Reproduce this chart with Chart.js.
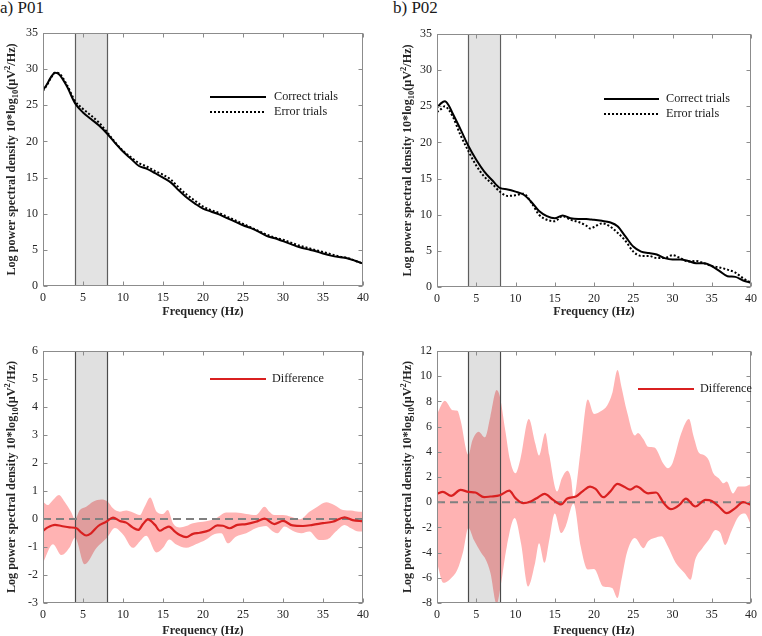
<!DOCTYPE html>
<html><head><meta charset="utf-8">
<script src="https://cdn.jsdelivr.net/npm/chart.js@4.4.0/dist/chart.umd.min.js"></script>
<style>
html,body{margin:0;padding:0;background:#fff;}
body{width:762px;height:636px;position:relative;overflow:hidden;font-family:"Liberation Serif","Times New Roman",serif;}
.c{position:absolute;}
.lab{position:absolute;font-size:17px;line-height:17px;color:#1a1a1a;white-space:nowrap;}
</style></head><body>
<div class="lab" style="left:0px;top:-1px">a) P01</div>
<div class="lab" style="left:393px;top:-1px">b) P02</div>
<canvas id="c1" class="c" width="381" height="318" style="left:0;top:0"></canvas>
<canvas id="c2" class="c" width="381" height="318" style="left:381px;top:0"></canvas>
<canvas id="c3" class="c" width="381" height="318" style="left:0;top:318px"></canvas>
<canvas id="c4" class="c" width="381" height="318" style="left:381px;top:318px"></canvas>
<script>
// ---------- tick labels ----------
const xTicks = [0,5,10,15,20,25,30,35,40];
const yTicksPSD = [0,5,10,15,20,25,30,35];
const yTicksDiffP01 = [-3,-2,-1,0,1,2,3,4,5,6];
const yTicksDiffP02 = [-8,-6,-4,-2,0,2,4,6,8,10,12];
const thetaBand = [4, 8];
const seriesLabels = ['Correct trials', 'Error trials', 'Difference'];

// ---------- P01 spectra ----------
const p01Freq = [0,0.5,1,1.5,2,3,4,5,6,7,8,9,10,11,12,13,14,15,16,17,18,19,20,21,22,23,24,25,26,27,28,29,30,31,32,33,34,35,36,37,38,39,40];
const p01Correct = [27.1,27.9,28.9,29.5,29.3,27.6,25.3,24.0,23.1,22.2,21.1,19.8,18.6,17.6,16.6,16.2,15.6,15.0,14.3,13.2,12.2,11.4,10.7,10.3,9.9,9.4,8.9,8.4,8.0,7.5,6.9,6.6,6.2,5.8,5.4,5.1,4.85,4.5,4.2,4.0,3.85,3.5,3.1];
const p01Error   = [27.0,27.8,28.8,29.5,29.4,27.8,25.6,24.5,23.6,22.6,21.3,19.9,18.7,17.8,17.0,16.5,15.9,15.4,14.7,13.6,12.6,11.8,11.0,10.5,10.1,9.6,9.1,8.6,8.1,7.6,7.1,6.7,6.4,6.0,5.6,5.3,5.0,4.7,4.4,4.1,3.9,3.5,3.1];

// ---------- P02 spectra ----------
const p02Freq = [0,0.5,1,1.5,2,3,4,5,6,7,8,9,10,11,12,13,14,15,16,17,18,19,19.5,20,21,22,23,24,25,26,27,28,29,30,31,32,33,34,35,36,37,38,39,40];
const p02Correct = [24.8,25.4,25.7,25.1,24.0,21.8,19.5,17.6,16.0,14.8,13.7,13.5,13.2,12.8,11.8,10.5,9.8,9.5,9.9,9.5,9.4,9.4,9.35,9.3,9.15,8.95,8.4,7.0,5.6,4.9,4.7,4.5,4.0,3.8,3.8,3.6,3.3,3.3,2.9,2.2,1.5,1.4,0.9,0.6];
const p02Error   = [24.2,24.6,25.0,24.5,23.6,21.0,18.8,16.8,15.3,14.3,13.2,12.6,12.7,12.9,11.7,10.0,9.3,9.1,9.8,9.3,9.0,8.5,8.1,8.3,8.8,8.4,7.5,6.4,4.9,4.3,4.3,4.0,4.0,4.4,4.0,3.5,3.6,3.3,2.9,2.7,2.4,2.0,1.2,0.6];

// ---------- P01 difference (mean and band) ----------
const p01DiffFreq = [0,0.6,1.5,2.3,3.3,4.2,4.8,5.4,6,6.9,7.9,8.75,9.6,10.4,11.2,11.9,12.5,13.1,14,14.6,15.2,15.75,16.5,17.1,17.9,18.75,19.6,20.8,21.8,22.5,23.3,24.3,25.4,26.6,27.7,28.9,30,31.2,32.5,33.7,35,36.2,37.7,38.7,40];
const p01Diff     = [-0.42,-0.3,-0.21,-0.25,-0.3,-0.33,-0.49,-0.59,-0.51,-0.25,-0.1,0.05,-0.07,-0.13,-0.3,-0.39,-0.18,-0.01,-0.21,-0.42,-0.33,-0.27,-0.45,-0.57,-0.65,-0.53,-0.49,-0.4,-0.23,-0.24,-0.33,-0.21,-0.18,-0.1,0.01,-0.18,-0.07,-0.23,-0.25,-0.21,-0.15,-0.1,0.06,-0.04,-0.08];
const p01UpperFreq = [0,0.6,1.25,2,2.7,3.5,4,4.6,5.4,6.25,7.3,8.1,8.75,9.6,10.4,11.25,12.1,12.7,13.4,14.2,15,15.6,16.25,17.1,17.9,18.75,20,21.6,22.9,24.1,25.4,26.6,27.7,28.3,28.9,30,31,32.1,33.3,34.3,35.4,36.4,37.5,38.5,39.5,40];
const p01Upper     = [0.62,0.5,0.68,0.86,0.62,0.26,0.0,0.32,0.44,0.62,0.7,0.62,0.38,0.26,0.3,0.23,0.14,0.44,0.77,0.26,0.18,0.32,-0.15,-0.3,-0.25,-0.15,-0.1,0.02,0.23,0.23,0.18,0.14,0.44,0.26,0.14,0.14,0.08,-0.01,0.26,0.44,0.6,0.5,0.32,0.3,0.26,0.26];
const p01LowerFreq = [0,1.25,2.3,3.3,4,5.2,6.7,8,9,10,11.25,12.1,12.9,14.2,15,15.8,16.6,17.9,19.1,20.4,21.2,22.3,23.1,24.1,25.4,26.6,27.9,28.5,29.3,30.2,31.2,32.3,33.3,34.5,35.6,36.6,37.7,38.5,39.5,40];
const p01Lower     = [-1.56,-0.9,-1.29,-1.03,-0.67,-1.62,-1.03,-0.67,-0.32,-0.55,-1.03,-0.8,-0.6,-1.2,-1.03,-0.73,-0.9,-1.03,-0.9,-0.73,-0.57,-0.51,-0.87,-0.63,-0.51,-0.33,-0.25,-0.39,-0.51,-0.27,-0.42,-0.51,-0.45,-0.75,-0.72,-0.45,-0.21,-0.33,-0.45,-0.45];

// ---------- P02 difference (mean and band) ----------
const p02DiffFreq = [0,0.75,1.8,3,4,4.9,6,6.8,8,9.2,10,11,12,12.9,13.7,14.8,15.8,16.6,17.7,18.5,19.5,20.2,21.2,22,23,23.9,24.6,25.4,26.9,27.9,28.9,29.8,30.9,31.7,32.9,34.2,35,35.9,36.9,38,39,40];
const p02Diff     = [0.66,0.82,0.5,0.98,0.82,0.77,0.4,0.45,0.55,0.92,0.32,-0.08,0.08,0.4,0.66,0.18,-0.18,0.29,0.45,0.84,1.24,1.05,0.4,0.8,1.45,1.2,1.0,1.25,0.7,0.77,-0.08,-0.55,-0.2,0.29,-0.34,0.18,0.1,-0.34,-0.87,-0.47,0.0,-0.2];
const p02UpperFreq = [0,1,2,2.6,3,4,4.5,5.3,6.1,6.8,7.6,8,8.7,9.3,10,10.6,11.7,12.5,13,13.8,14.3,15.3,15.9,16.6,17.1,17.4,18.3,19.2,20,20.8,21.7,22.3,23,23.5,24.2,25.2,25.6,26.3,26.9,27.7,28.8,29.4,30,31.1,32.1,32.7,33.4,34,34.6,35.2,35.9,36.5,36.9,37.7,38.4,39.2,40];
const p02Upper     = [7.0,8.05,7.3,7.25,6.5,3.75,4.9,5.6,5.15,6.8,8.9,8.4,5.7,3.35,2.3,3.35,6.6,4.7,3.7,5.5,3.75,0.85,1.9,2.5,1.8,0.3,4.1,8.15,7.0,7.2,7.7,8.6,10.5,9.15,7.2,5.3,5.5,5.0,4.4,4.35,3.1,2.7,3.1,5.45,6.6,5.2,3.9,3.75,3.35,2.3,1.9,1.5,1.65,0.7,1.25,1.25,1.45];
const p02LowerFreq = [0,0.8,1.6,2.6,3.3,4,4.7,5.6,6.2,6.8,7.6,8.1,8.9,9.9,10.7,11.6,12.5,13,13.7,14.3,15,15.8,16.4,17.4,18.3,19.2,20,21.2,22.3,23,23.5,24.2,25.2,26.3,26.9,27.7,28.6,29.4,30.4,31.5,32.3,32.9,33.8,34.6,35.5,36.1,36.7,37.5,38.4,39.2,40];
const p02Lower     = [-4.8,-6.4,-6.15,-5.35,-4.0,-2.05,-3.0,-4.0,-4.55,-5.6,-8.1,-6.7,-3.5,-1.25,-3.25,-6.7,-4.8,-3.25,-4.8,-3.0,-0.9,-2.45,-1.9,-0.1,-3.5,-5.35,-5.3,-6.7,-6.8,-7.6,-6.15,-4.0,-2.85,-3.65,-3.1,-2.85,-2.7,-3.5,-4.8,-5.6,-6.15,-4.55,-3.65,-3.0,-2.2,-2.45,-3.4,-2.3,-1.15,-0.9,-1.8];

// ---------- helpers ----------
const SERIF = '"Liberation Serif", "Times New Roman", serif';
const TXT = '#262626';
const pts = (xs, ys) => xs.map((x, i) => ({x: x, y: ys[i]}));
const zeroLine = () => [{x: xTicks[0], y: 0}, {x: xTicks[xTicks.length - 1], y: 0}];

function drawBand(chart, fill, edge) {
  const ctx = chart.ctx, ca = chart.chartArea, xs = chart.scales.x;
  const x1 = xs.getPixelForValue(thetaBand[0]), x2 = xs.getPixelForValue(thetaBand[1]);
  ctx.save();
  ctx.fillStyle = fill;
  ctx.fillRect(x1, ca.top, x2 - x1, ca.bottom - ca.top);
  ctx.strokeStyle = edge; ctx.lineWidth = 1.2;
  [x1, x2].forEach(x => { ctx.beginPath(); ctx.moveTo(Math.round(x) + 0.5, ca.top); ctx.lineTo(Math.round(x) + 0.5, ca.bottom); ctx.stroke(); });
  ctx.restore();
}

const matlabPlugin = {
  id: 'matlab',
  beforeDatasetsDraw(chart, args, o) {
    if (!o.bandOverFill) drawBand(chart, '#e3e3e3', '#5e5e5e');
  },
  beforeDatasetDraw(chart, args, o) {
    if (o.bandOverFill && args.index === 1) drawBand(chart, 'rgba(0,0,0,0.12)', '#4a4a4a');
  },
  afterDatasetsDraw(chart, args, o) {
    const ctx = chart.ctx, ca = chart.chartArea;
    const xs = chart.scales.x, ys = chart.scales.y;
    ctx.save();
    // box
    ctx.strokeStyle = '#8c8c8c'; ctx.lineWidth = 1;
    const L = Math.round(ca.left) + 0.5, R = Math.round(ca.right) - 0.5, T = Math.round(ca.top) + 0.5, B = Math.round(ca.bottom) - 0.5;
    ctx.strokeRect(L, T, R - L, B - T);
    // inward ticks
    ctx.beginPath();
    xs.ticks.forEach(t => { const px = Math.round(xs.getPixelForValue(t.value)) + 0.5; ctx.moveTo(px, B); ctx.lineTo(px, B - 4); ctx.moveTo(px, T); ctx.lineTo(px, T + 4); });
    ys.ticks.forEach(t => { const py = Math.round(ys.getPixelForValue(t.value)) + 0.5; ctx.moveTo(L, py); ctx.lineTo(L + 4, py); ctx.moveTo(R, py); ctx.lineTo(R - 4, py); });
    ctx.stroke();
    // legend
    (o.legend || []).forEach(it => {
      ctx.strokeStyle = it.color; ctx.lineWidth = 2; ctx.setLineDash(it.dash || []);
      ctx.beginPath(); ctx.moveTo(ca.left + o.legX1, ca.top + it.dy); ctx.lineTo(ca.left + o.legX2, ca.top + it.dy); ctx.stroke();
      ctx.setLineDash([]);
      ctx.fillStyle = '#1a1a1a'; ctx.font = '12.2px ' + SERIF; ctx.textBaseline = 'middle'; ctx.textAlign = 'left';
      ctx.fillText(it.text, ca.left + o.legTX, ca.top + it.dy);
    });
    // rich y title
    const segs = [
      {t: 'Log power spectral density 10*log', s: 12.2, dy: 0},
      {t: '10', s: 8.5, dy: 3.5},
      {t: '(\u03bcV', s: 12.2, dy: 0},
      {t: '2', s: 8.5, dy: -4.5},
      {t: '/Hz)', s: 12.2, dy: 0}
    ];
    let total = 0;
    segs.forEach(sg => { ctx.font = 'bold ' + sg.s + 'px ' + SERIF; sg.w = ctx.measureText(sg.t).width; total += sg.w; });
    ctx.translate(ca.left + o.titleDX, (ca.top + ca.bottom) / 2);
    ctx.rotate(-Math.PI / 2);
    ctx.fillStyle = TXT; ctx.textBaseline = 'middle'; ctx.textAlign = 'left';
    let cx = -total / 2;
    segs.forEach(sg => { ctx.font = 'bold ' + sg.s + 'px ' + SERIF; ctx.fillText(sg.t, cx, sg.dy); cx += sg.w; });
    ctx.restore();
  }
};

function makeChart(id, datasets, yMin, yMax, yTicks, geo, pluginOpts) {
  return new Chart(document.getElementById(id), {
    type: 'line',
    data: {datasets: datasets},
    plugins: [matlabPlugin],
    options: {
      responsive: false, animation: false, devicePixelRatio: 1,
      layout: {padding: {left: 0, top: geo.top, right: geo.right, bottom: 0}},
      elements: {point: {radius: 0}, line: {cubicInterpolationMode: 'monotone', borderCapStyle: 'butt'}},
      plugins: {legend: {display: false}, tooltip: {enabled: false}, matlab: pluginOpts},
      scales: {
        x: {
          type: 'linear', min: xTicks[0], max: xTicks[xTicks.length - 1],
          grid: {display: false, drawTicks: false}, border: {display: false},
          afterBuildTicks: s => { s.ticks = xTicks.map(v => ({value: v})); },
          afterFit: s => { s.height = geo.xh; },
          ticks: {color: TXT, font: {family: SERIF, size: 12}, padding: 5, maxRotation: 0},
          title: {display: true, text: 'Frequency (Hz)', color: TXT, font: {family: SERIF, size: 12.2, weight: 'bold', lineHeight: 1}, padding: {top: 0, bottom: geo.tpad}}
        },
        y: {
          type: 'linear', min: yMin, max: yMax,
          grid: {display: false, drawTicks: false}, border: {display: false},
          afterBuildTicks: s => { s.ticks = yTicks.map(v => ({value: v})); },
          afterFit: s => { s.width = geo.left; },
          ticks: {color: TXT, font: {family: SERIF, size: 12}, padding: 5}
        }
      }
    }
  });
}

const solid = (label, data, color) => ({label: label, data: data, borderColor: color, borderWidth: 2, fill: false});

// a) P01 spectra
makeChart('c1', [
  solid(seriesLabels[0], pts(p01Freq, p01Correct), '#000'),
  Object.assign(solid(seriesLabels[1], pts(p01Freq, p01Error), '#000'), {borderDash: [2, 2]})
], yTicksPSD[0], yTicksPSD[yTicksPSD.length - 1], yTicksPSD,
  {top: 33, right: 18, left: 43, xh: 32, tpad: 0},
  {legX1: 167, legX2: 223, legTX: 231, titleDX: -31,
   legend: [{text: seriesLabels[0], color: '#000', dy: 64}, {text: seriesLabels[1], color: '#000', dash: [2, 2], dy: 79}]});

// b) P02 spectra
makeChart('c2', [
  solid(seriesLabels[0], pts(p02Freq, p02Correct), '#000'),
  Object.assign(solid(seriesLabels[1], pts(p02Freq, p02Error), '#000'), {borderDash: [2, 2]})
], yTicksPSD[0], yTicksPSD[yTicksPSD.length - 1], yTicksPSD,
  {top: 34, right: 6, left: 56, xh: 31, tpad: 0},
  {legX1: 167, legX2: 222, legTX: 229, titleDX: -29,
   legend: [{text: seriesLabels[0], color: '#000', dy: 65}, {text: seriesLabels[1], color: '#000', dash: [2, 2], dy: 80}]});

const RED = '#d92020', PINK = '#ffb3b3';
function diffSets(fm, m, fu, u, fl, l) {
  return [
    {label: seriesLabels[2], data: pts(fm, m), borderColor: RED, borderWidth: 2.2, fill: false},
    {label: 'zero', data: zeroLine(), borderColor: '#808080', borderWidth: 2, borderDash: [8, 5], fill: false, cubicInterpolationMode: 'default', tension: 0},
    {label: 'upper', data: pts(fu, u), borderWidth: 0, borderColor: 'rgba(0,0,0,0)', backgroundColor: PINK, fill: 3},
    {label: 'lower', data: pts(fl, l), borderWidth: 0, borderColor: 'rgba(0,0,0,0)', fill: false}
  ];
}

makeChart('c3', diffSets(p01DiffFreq, p01Diff, p01UpperFreq, p01Upper, p01LowerFreq, p01Lower),
  yTicksDiffP01[0], yTicksDiffP01[yTicksDiffP01.length - 1], yTicksDiffP01,
  {top: 33, right: 18, left: 43, xh: 33, tpad: -0.5},
  {bandOverFill: true, legX1: 167, legX2: 223, legTX: 229, titleDX: -31,
   legend: [{text: seriesLabels[2], color: RED, dy: 28}]});

makeChart('c4', diffSets(p02DiffFreq, p02Diff, p02UpperFreq, p02Upper, p02LowerFreq, p02Lower),
  yTicksDiffP02[0], yTicksDiffP02[yTicksDiffP02.length - 1], yTicksDiffP02,
  {top: 33, right: 6, left: 56, xh: 33, tpad: -0.5},
  {bandOverFill: true, legX1: 201, legX2: 257, legTX: 263, titleDX: -29,
   legend: [{text: seriesLabels[2], color: RED, dy: 38}]});
</script>
</body></html>
